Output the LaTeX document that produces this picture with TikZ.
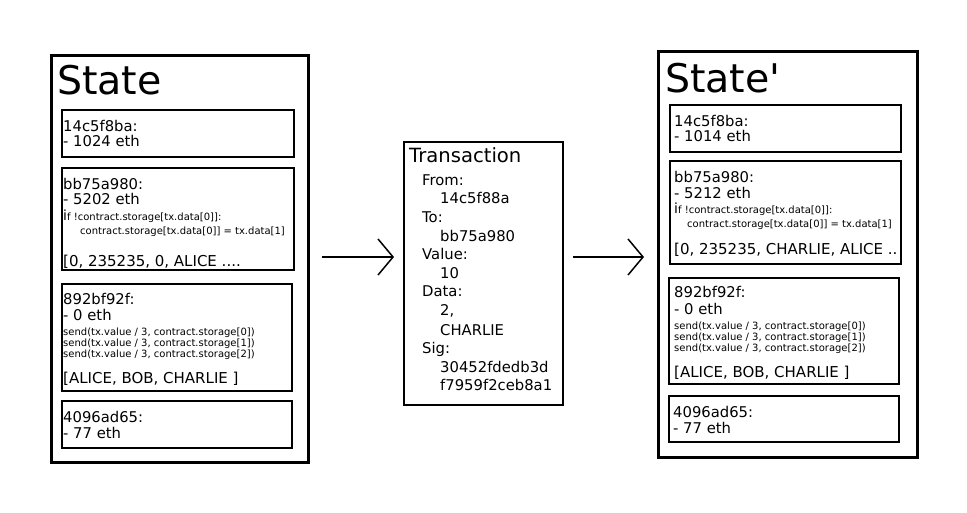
\documentclass[tikz,border=0pt]{standalone}
\usepackage{fontspec}
\setmainfont{DejaVu Sans}
\newfontfamily\plainfont{DejaVu Sans}
\usetikzlibrary{fit,arrows.meta}
\tikzset{
  outerbox/.style={draw, line width=3pt, inner sep=0pt},
  innerbox/.style={draw, line width=1.5pt, inner sep=0pt},
  txt/.style={anchor=base west, inner sep=0pt, font=\fontsize{14.8}{15}\selectfont},
  arrtxt/.style={anchor=base west, inner sep=0pt, font=\fontsize{15}{15}\selectfont},
  small/.style={anchor=base west, inner sep=0pt, font=\fontsize{10}{11}\selectfont},
  title/.style={anchor=base west, inner sep=0pt, font=\plainfont\fontsize{39.5}{40}\selectfont},
  txtitle/.style={anchor=base west, inner sep=0pt, font=\fontsize{19.6}{20}\selectfont},
  arr/.style={line width=1.5pt, -{Straight Barb[length=15pt, width=36pt]}},
}
\newcommand{\bigi}{{\fontsize{14}{14}\selectfont i}}
\begin{document}
\begin{tikzpicture}[x=1pt,y=-1pt]
\useasboundingbox[fill=white] (0,0) rectangle (967,513);

% ---------- left state ----------
\node[outerbox, fit={(51,56) (308,462)}] (lstate) {};
\node[title] (ltitle) at (57,95) {State};

\node[innerbox, fit={(62,110) (294,157)}] (l1) {};
\node[txt] (l1a) at (63,132) {14c5f8ba:};
\node[txt] (l1b) at (63,147) {- 1024 eth};

\node[innerbox, fit={(62,168) (294,270)}] (l2) {};
\node[txt] (l2a) at (63,190) {bb75a980:};
\node[txt] (l2b) at (63,205) {- 5202 eth};
\node[small] (l2c) at (63,221) {\bigi f !contract.storage[tx.data[0]]:};
\node[small] (l2d) at (80,235) {contract.storage[tx.data[0]] = tx.data[1]};
\node[arrtxt] (l2e) at (63,266) {[0, 235235, 0, ALICE ....};

\node[innerbox, fit={(62,284) (292,391)}] (l3) {};
\node[txt] (l3a) at (63,305) {892bf92f:};
\node[txt] (l3b) at (63,320) {- 0 eth};
\node[small] (l3c) at (63,335) {send(tx.value / 3, contract.storage[0])};
\node[small] (l3d) at (63,346) {send(tx.value / 3, contract.storage[1])};
\node[small] (l3e) at (63,357) {send(tx.value / 3, contract.storage[2])};
\node[arrtxt] (l3f) at (63,383) {[ALICE, BOB, CHARLIE ]};

\node[innerbox, fit={(62,401) (292,448)}] (l4) {};
\node[txt] (l4a) at (63,422) {4096ad65:};
\node[txt] (l4b) at (63,438) {- 77 eth};

% ---------- transaction ----------
\node[innerbox, fit={(404,142) (563,405)}] (tx) {};
\node[txtitle] (txt0) at (409,163) {Transaction};
\node[txt] (tx1) at (422,186) {From:};
\node[txt] (tx2) at (440,204) {14c5f88a};
\node[txt] (tx3) at (422,223) {To:};
\node[txt] (tx4) at (440,242) {bb75a980};
\node[txt] (tx5) at (422,260) {Value:};
\node[txt] (tx6) at (440,279) {10};
\node[txt] (tx7) at (422,297) {Data:};
\node[txt] (tx8) at (440,316) {2,};
\node[txt] (tx9) at (440,335) {CHARLIE};
\node[txt] (tx10) at (422,353) {Sig:};
\node[txt] (tx11) at (440,372) {30452fdedb3d};
\node[txt] (tx12) at (440,390) {f7959f2ceb8a1};

% ---------- arrows ----------
\coordinate (a1s) at (322,257);
\coordinate (a1e) at (394,257);
\coordinate (a2s) at (573,257);
\coordinate (a2e) at (644,257);
\draw[arr] (a1s) -- (a1e);
\draw[arr] (a2s) -- (a2e);

% ---------- right state ----------
\node[outerbox, fit={(658,52) (917,457)}] (rstate) {};
\node[title] (rtitle) at (665,93) {State'};

\node[innerbox, fit={(670,105) (901,152)}] (r1) {};
\node[txt] (r1a) at (674,127) {14c5f8ba:};
\node[txt] (r1b) at (674,142) {- 1014 eth};

\node[innerbox, fit={(670,161) (901,264)}] (r2) {};
\node[txt] (r2a) at (674,183) {bb75a980:};
\node[txt] (r2b) at (674,199) {- 5212 eth};
\node[small] (r2c) at (674,214) {\bigi f !contract.storage[tx.data[0]]:};
\node[small] (r2d) at (687,228) {contract.storage[tx.data[0]] = tx.data[1]};
\node[arrtxt] (r2e) at (674,255) {[0, 235235, CHARLIE, ALICE ..};

\node[innerbox, fit={(669,278) (899,384)}] (r3) {};
\node[txt] (r3a) at (674,298) {892bf92f:};
\node[txt] (r3b) at (674,314) {- 0 eth};
\node[small] (r3c) at (674,329) {send(tx.value / 3, contract.storage[0])};
\node[small] (r3d) at (674,340) {send(tx.value / 3, contract.storage[1])};
\node[small] (r3e) at (674,351) {send(tx.value / 3, contract.storage[2])};
\node[arrtxt] (r3f) at (674,377) {[ALICE, BOB, CHARLIE ]};

\node[innerbox, fit={(669,396) (899,442)}] (r4) {};
\node[txt] (r4a) at (673,417) {4096ad65:};
\node[txt] (r4b) at (673,433) {- 77 eth};
\end{tikzpicture}
\end{document}
